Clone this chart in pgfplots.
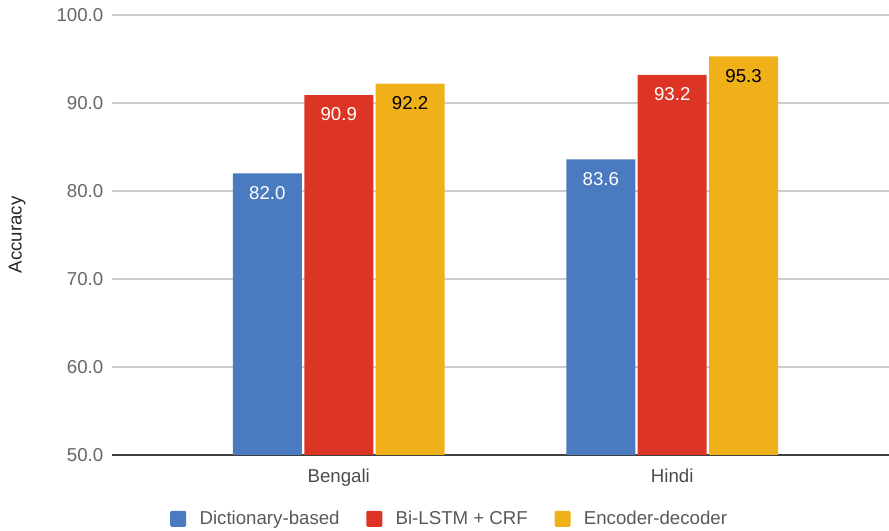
\documentclass[border=0pt]{standalone}
\usepackage{pgfplots}
\pgfplotsset{compat=1.18}
\usepackage{fontspec}
\setmainfont{Liberation Sans}
\definecolor{cblue}{HTML}{4A7BC1}
\definecolor{cred}{HTML}{DC3526}
\definecolor{cyellow}{HTML}{F0B01A}
\definecolor{tickgray}{HTML}{666666}
\definecolor{gridgray}{HTML}{CCCCCC}
\begin{document}
\begin{tikzpicture}
\begin{axis}[
  at={(0,0)}, anchor=south west,
  scale only axis,
  width=582.75pt, height=330pt,
  ybar=1.8pt,
  bar width=51.75pt,
  ymin=50, ymax=100,
  xmin=-0.68, xmax=1.65,
  xtick=data,
  xticklabels={Bengali,Hindi},
  ytick={50,60,70,80,90,100},
  /pgf/number format/assume math mode=true,
  yticklabel={\pgfmathprintnumber[fixed,fixed zerofill,precision=1]{\tick}},
  ymajorgrids,
  grid style={draw=gridgray, line width=0.9pt},
  axis x line*=bottom,
  axis y line*=left,
  y axis line style={draw=none},
  x axis line style={draw=black!75, line width=0.9pt},
  tick style={draw=none},
  ticklabel style={font=\fontsize{14}{16}\selectfont, text=tickgray},
  yticklabel style={xshift=-3pt},
  xticklabel style={text=black!70, yshift=-3pt},
  ylabel={Accuracy},
  ylabel style={at={(axis description cs:-0.1222,0.5)}, anchor=center, font=\fontsize{14}{16}\selectfont, text=black!85},
  nodes near coords={\pgfmathprintnumber[fixed,fixed zerofill,precision=1,assume math mode=true]{\pgfplotspointmeta}},
  every node near coord/.append style={anchor=north, yshift=-6pt, font=\fontsize{14}{16}\selectfont},
  legend columns=3,
  legend style={draw=none, fill=none, at={(axis description cs:0.435,-0.145)}, anchor=center,
    font=\fontsize{14}{16}\selectfont, text=black!65,
    /tikz/every odd column/.append style={column sep=8pt},
    /tikz/every even column/.append style={column sep=18pt}},
  legend image code/.code={\fill[#1, rounded corners=1pt] (0pt,-6pt) rectangle (12pt,6pt);},
]
\addplot[fill=cblue, draw=none, every node near coord/.append style={text=white}] coordinates {(0,82.0) (1,83.6)};
\addplot[fill=cred, draw=none, every node near coord/.append style={text=white}] coordinates {(0,90.9) (1,93.2)};
\addplot[fill=cyellow, draw=none, every node near coord/.append style={text=black}] coordinates {(0,92.2) (1,95.3)};
\legend{Dictionary-based, Bi-LSTM + CRF, Encoder-decoder}
\end{axis}
\pgfresetboundingbox
\path[use as bounding box] (-84pt,-57pt) rectangle (582.75pt,341.25pt);
\end{tikzpicture}
\end{document}
